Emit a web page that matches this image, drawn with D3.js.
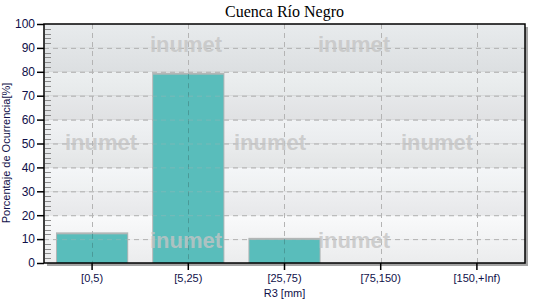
<!DOCTYPE html>
<html>
<head>
<meta charset="utf-8">
<script src="https://cdn.jsdelivr.net/npm/d3@7"></script>
<style>
  body { margin: 0; background: #fff; }
  svg { display: block; }
</style>
</head>
<body>
<div id="chart"></div>
<script>
// chart data
const categories = ["[0,5)", "[5,25)", "[25,75)", "[75,150)", "[150,+Inf)"];
const values = [12.2, 79, 9.9, 0, 0];
const yTicks = [0, 10, 20, 30, 40, 50, 60, 70, 80, 90, 100];
const chartTitle = "Cuenca Río Negro";
const xTitle = "R3 [mm]";
const yTitle = "Porcentaje de Ocurrencia[%]";
const watermark = "inumet";

const W = 540, H = 300;
const margin = { top: 24, right: 15, bottom: 37, left: 44 };
const width = W - margin.left - margin.right;
const height = H - margin.top - margin.bottom;

const svg = d3.select("#chart").append("svg")
    .attr("width", W)
    .attr("height", H);

const defs = svg.append("defs");

const g = svg.append("g")
    .attr("transform", "translate(" + margin.left + "," + margin.top + ")");

// scales
const xScale = d3.scaleBand().domain(categories).range([0, width]).paddingInner(0.27).paddingOuter(0.135);
const yScale = d3.scaleLinear().domain([0, 100]).range([height, 0]);

// frame shadow
g.append("rect")
    .attr("x", 3).attr("y", 3)
    .attr("width", width).attr("height", height)
    .attr("fill", "#a4a4a4");

// background bands: overall light gradient, alternate bands darker
const topCol = "#e5e8ea", botCol = "#f7f8f9";
const bands = d3.range(10);
bands.forEach(i => {
    const v1 = 100 - i * 10, v0 = v1 - 10;
    const t = i / 9;
    let c = d3.color(d3.interpolateRgb(topCol, botCol)(t));
    if (i % 2 === 1) c = c.darker(0.1);
    const id = "band" + i;
    const grad = defs.append("linearGradient").attr("id", id)
        .attr("x1", 0).attr("y1", 0).attr("x2", 0).attr("y2", 1);
    grad.append("stop").attr("offset", "0%").attr("stop-color", c.brighter(0.04));
    grad.append("stop").attr("offset", "100%").attr("stop-color", c.darker(0.04));
    g.append("rect")
        .attr("x", 0).attr("y", yScale(v1))
        .attr("width", width).attr("height", yScale(v0) - yScale(v1))
        .attr("fill", "url(#" + id + ")");
});

// grid lines
g.append("g").selectAll("line.h")
    .data(yTicks.filter(d => d > 0 && d < 100))
    .join("line")
    .attr("x1", 0).attr("x2", width)
    .attr("y1", d => yScale(d) + 0.5).attr("y2", d => yScale(d) + 0.5)
    .attr("stroke", "#b4b4b4").attr("stroke-dasharray", "5,4");

g.append("g").selectAll("line.v")
    .data(categories)
    .join("line")
    .attr("x1", d => Math.round(xScale(d) + xScale.bandwidth() / 2) + 0.5)
    .attr("x2", d => Math.round(xScale(d) + xScale.bandwidth() / 2) + 0.5)
    .attr("y1", 0).attr("y2", height)
    .attr("stroke", "#b4b4b4").attr("stroke-dasharray", "5,4");

// bars with a grey rim
const bars = g.append("g").selectAll("g")
    .data(categories.map((c, i) => ({ cat: c, val: values[i] })).filter(d => d.val > 0))
    .join("g");

bars.append("rect")
    .attr("x", d => xScale(d.cat) - 1)
    .attr("y", d => yScale(d.val) - 1.5)
    .attr("width", xScale.bandwidth() + 2)
    .attr("height", d => height - yScale(d.val) + 1.5)
    .attr("fill", "#b2b6b6");

bars.append("rect")
    .attr("x", d => xScale(d.cat))
    .attr("y", d => yScale(d.val) + 0.5)
    .attr("width", xScale.bandwidth())
    .attr("height", d => height - yScale(d.val) - 0.5)
    .attr("fill", "#59bdbb");

// watermark
const wmPos = [[186, 44], [354, 44], [101, 142], [270, 142], [437, 142], [186, 240], [354, 240]];
svg.append("g").selectAll("text")
    .data(wmPos)
    .join("text")
    .attr("x", d => d[0]).attr("y", d => d[1] + 8)
    .attr("text-anchor", "middle")
    .style("font-family", "'Liberation Sans', Arial, sans-serif")
    .style("font-weight", "bold")
    .style("font-size", "22px")
    .style("fill", "#c4c4c4")
    .style("fill-opacity", 0.8)
    .text(watermark);

// grid lines re-drawn over bars
g.append("g").selectAll("line")
    .data(categories.filter((c, i) => values[i] > 0))
    .join("line")
    .attr("x1", d => Math.round(xScale(d) + xScale.bandwidth() / 2) + 0.5)
    .attr("x2", d => Math.round(xScale(d) + xScale.bandwidth() / 2) + 0.5)
    .attr("y1", d => yScale(values[categories.indexOf(d)])).attr("y2", height)
    .attr("stroke", "#4a9a98").attr("stroke-dasharray", "5,4");
g.append("g").selectAll("line")
    .data(yTicks.filter(d => d > 0 && d < 100))
    .join("line")
    .attr("x1", 0).attr("x2", width)
    .attr("y1", d => yScale(d) + 0.5).attr("y2", d => yScale(d) + 0.5)
    .attr("stroke", "#b4b4b4").attr("stroke-dasharray", "5,4")
    .attr("stroke-opacity", 0.35);

// minor ticks inside plot
g.append("g").selectAll("line")
    .data(d3.range(0, 100, 2).filter(d => d % 10 !== 0))
    .join("line")
    .attr("x1", 1).attr("x2", 7)
    .attr("y1", d => Math.round(yScale(d)) + 0.5).attr("y2", d => Math.round(yScale(d)) + 0.5)
    .attr("stroke", "#8c8c8c");

// frame
g.append("rect")
    .attr("x", 0).attr("y", 0)
    .attr("width", width).attr("height", height)
    .attr("fill", "none").attr("stroke", "#000").attr("stroke-width", 1.5);

// axes
const textCol = "#10104a";
const yAxis = g.append("g")
    .call(d3.axisLeft(yScale).tickValues(yTicks).tickSize(7).tickPadding(2));
yAxis.select(".domain").remove();
yAxis.selectAll("line").attr("stroke", "#000").attr("stroke-width", 1.5);
yAxis.selectAll("text")
    .style("font-family", "'Liberation Sans', Arial, sans-serif")
    .style("font-size", "12px").style("fill", textCol);

const xAxis = g.append("g")
    .attr("transform", "translate(0," + height + ")")
    .call(d3.axisBottom(xScale).tickSize(7).tickPadding(4));
xAxis.select(".domain").remove();
xAxis.selectAll("line").attr("stroke", "#000").attr("stroke-width", 1.5);
xAxis.selectAll("text")
    .style("font-family", "'Liberation Sans', Arial, sans-serif")
    .style("font-size", "11px").style("fill", textCol);

// titles
svg.append("text")
    .attr("x", margin.left + width / 2).attr("y", 17)
    .attr("text-anchor", "middle")
    .style("font-family", "'Liberation Serif', 'Times New Roman', serif")
    .style("font-size", "16px").style("fill", "#000")
    .text(chartTitle);

svg.append("text")
    .attr("x", margin.left + width / 2).attr("y", 297)
    .attr("text-anchor", "middle")
    .style("font-family", "'Liberation Sans', Arial, sans-serif")
    .style("font-size", "11px").style("fill", textCol)
    .text(xTitle);

svg.append("text")
    .attr("transform", "translate(10,153) rotate(-90)")
    .attr("text-anchor", "middle")
    .style("font-family", "'Liberation Sans', Arial, sans-serif")
    .style("font-size", "11px").style("fill", textCol)
    .text(yTitle);
</script>
</body>
</html>
